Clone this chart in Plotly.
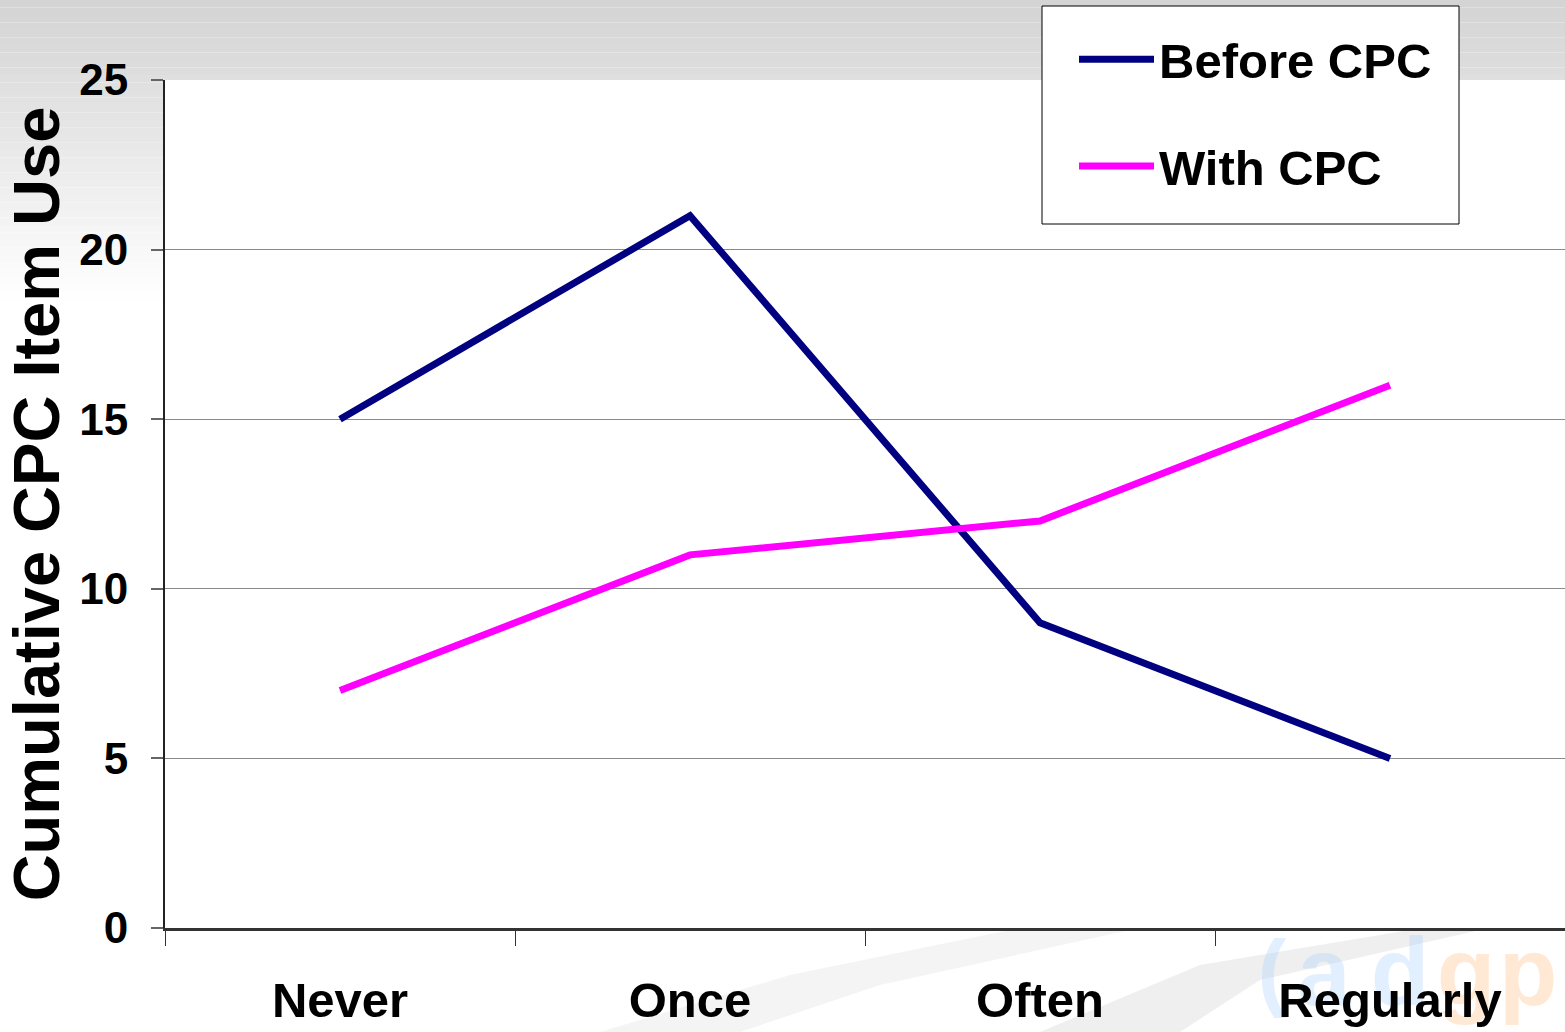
import plotly.graph_objects as go

# Usage frequency categories and cumulative item counts
categories = ["Never", "Once", "Often", "Regularly"]
before_cpc = [15, 21, 9, 5]
with_cpc = [7, 11, 12, 16]
y_ticks = [0, 5, 10, 15, 20, 25]

W, H = 1565, 1032
M_L, M_R, M_T, M_B = 165, 0, 80, 104
PW, PH = W - M_L - M_R, H - M_T - M_B

FONT = "Liberation Sans"


def px_x(x):
    return (x - M_L) / PW


def px_y(y):
    return (H - M_B - y) / PH


fig = go.Figure()

fig.add_trace(go.Scatter(
    x=categories, y=before_cpc, mode="lines", name="Before CPC",
    line=dict(color="#000080", width=7), legendgroup="a",
))
fig.add_trace(go.Scatter(
    x=categories, y=with_cpc, mode="lines", name="With CPC",
    line=dict(color="#FF00FF", width=7), legendgroup="b",
))

shapes = []

# soft grey gradient along the top and down the left margin
steps = 40
top_end = 300
for i in range(steps):
    y0 = top_end * i / steps
    y1 = top_end * (i + 1) / steps
    t = (i + 0.5) / steps
    g = int(round(0xD3 + (0xFF - 0xD3) * t))
    col = f"rgb({g},{g},{g})"
    x_extent = W if y1 <= M_T else M_L
    shapes.append(dict(
        type="rect", xref="paper", yref="paper", layer="below",
        x0=px_x(0), x1=px_x(x_extent), y0=px_y(y1), y1=px_y(y0),
        fillcolor=col, line=dict(width=0),
    ))
    if y0 < M_T < y1:
        shapes.append(dict(
            type="rect", xref="paper", yref="paper", layer="below",
            x0=px_x(M_L), x1=px_x(W), y0=px_y(M_T), y1=px_y(y0),
            fillcolor=col, line=dict(width=0),
        ))

# faint diagonal swooshes beneath the axis
for pts, col in [
    ([(600, 1032), (790, 975), (1010, 930), (1130, 930), (880, 985), (740, 1032)],
     "rgba(236,236,236,0.6)"),
    ([(1040, 1032), (1200, 965), (1410, 930), (1480, 930), (1260, 980), (1180, 1032)],
     "rgba(226,226,226,0.55)"),
]:
    path = "M " + " L ".join(f"{px_x(x)},{px_y(y)}" for x, y in pts) + " Z"
    shapes.append(dict(
        type="path", xref="paper", yref="paper", layer="below",
        path=path, fillcolor=col, line=dict(width=0),
    ))

# watermark lettering behind the axis labels
BLUE = "rgba(170,210,255,0.35)"
ORANGE = "rgba(255,200,150,0.4)"
for ch, cx, cy, size, col in [
    ("(", 1272, 962, 86, BLUE),
    ("a", 1324, 962, 96, BLUE),
    ("d", 1400, 962, 96, BLUE),
    ("g", 1466, 962, 96, ORANGE),
    ("p", 1528, 962, 96, ORANGE),
]:
    shapes.append(dict(
        type="rect", xref="paper", yref="paper", layer="below",
        x0=px_x(cx - 30), x1=px_x(cx + 30), y0=px_y(cy + 30), y1=px_y(cy - 30),
        fillcolor="rgba(0,0,0,0)", line=dict(width=0),
        label=dict(text=ch, font=dict(family=FONT, size=size, color=col, weight="bold"),
                   textposition="middle center"),
    ))

# legend frame
shapes.append(dict(
    type="rect", xref="paper", yref="paper", layer="above",
    x0=px_x(1042), x1=px_x(1459), y0=px_y(224), y1=px_y(6),
    fillcolor="white", line=dict(color="black", width=1),
))

fig.update_layout(
    width=W, height=H,
    margin=dict(l=M_L, r=M_R, t=M_T, b=M_B, autoexpand=False),
    paper_bgcolor="white", plot_bgcolor="white",
    font=dict(family=FONT, color="black"),
    shapes=shapes,
    showlegend=True,
    legend=dict(
        x=px_x(1074), y=px_y(21), xanchor="left", yanchor="top",
        bgcolor="rgba(0,0,0,0)", borderwidth=0,
        font=dict(family=FONT, size=49, color="black", weight="bold"),
        tracegroupgap=40, itemwidth=75,
    ),
    xaxis=dict(
        type="category", range=[-0.5, 3.5],
        showline=True, linecolor="#333333", linewidth=3,
        ticks="outside", tickson="boundaries", ticklen=15, tickcolor="#333333",
        tickwidth=1, showgrid=False,
        tickfont=dict(family=FONT, size=49, weight="bold"),
        ticklabelstandoff=27,
    ),
    yaxis=dict(
        range=[0, 25], tickvals=y_ticks,
        showline=True, linecolor="#222222", linewidth=2,
        ticks="outside", ticklen=12, tickcolor="#666666", tickwidth=2,
        showgrid=True, gridcolor="#8a8a8a", gridwidth=1,
        zeroline=False,
        tickfont=dict(family=FONT, size=44, weight="bold"),
        ticklabelstandoff=14,
        title=dict(text="Cumulative CPC Item Use", standoff=0,
                   font=dict(family=FONT, size=65, weight="bold")),
    ),
)

fig.write_html("out.html")
